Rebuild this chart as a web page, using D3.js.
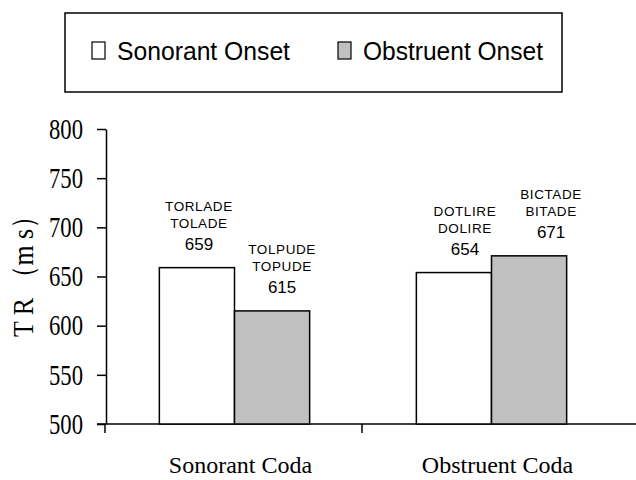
<!DOCTYPE html>
<html lang="en">

<head>
  <meta charset="UTF-8" />
  <title>TR by coda and onset</title>
  <script src="https://d3js.org/d3.v7.min.js"></script>
  <style>
    body {
      margin: 0;
      background: #fff;
    }

    .serif {
      font-family: "Liberation Serif", "Times New Roman", serif;
    }

    .sans {
      font-family: "Liberation Sans", Arial, sans-serif;
    }
  </style>
</head>

<body>
  <svg width="636" height="480"></svg>

  <script>
    // data
    const codas = ["Sonorant Coda", "Obstruent Coda"];
    const onsets = ["Sonorant Onset", "Obstruent Onset"];
    const sonorantOnset = [659, 654];
    const obstruentOnset = [615, 671];
    const wordsSonorant = [["TORLADE", "TOLADE"], ["DOTLIRE", "DOLIRE"]];
    const wordsObstruent = [["TOLPUDE", "TOPUDE"], ["BICTADE", "BITADE"]];
    const yTicks = [500, 550, 600, 650, 700, 750, 800];

    const colors = ["#ffffff", "#c0c0c0"];

    const svg = d3.select("svg");
    const plotLeft = 106, plotRight = 620, plotTop = 129, plotBottom = 424;

    const rows = [];
    codas.forEach((c, i) => {
      rows.push({ coda: c, onset: onsets[0], value: sonorantOnset[i], words: wordsSonorant[i] });
      rows.push({ coda: c, onset: onsets[1], value: obstruentOnset[i], words: wordsObstruent[i] });
    });

    const x0 = d3.scaleBand().domain(codas).range([plotLeft, plotRight]).padding(0);
    const x1 = d3.scaleBand().domain(onsets).range([0, x0.bandwidth()])
      .paddingInner(0).paddingOuter(0.71);
    const y = d3.scaleLinear().domain([500, 800]).range([plotBottom, plotTop]);
    const color = d3.scaleOrdinal().domain(onsets).range(colors);

    // y axis
    const yAxis = svg.append("g")
      .attr("transform", `translate(${plotLeft},0)`)
      .call(d3.axisLeft(y).tickValues(yTicks).tickSize(9).tickSizeOuter(0).tickPadding(14));
    yAxis.select(".domain").attr("stroke", "#000").attr("stroke-width", 1.5);
    yAxis.selectAll(".tick line").attr("stroke", "#000").attr("stroke-width", 1.5);
    yAxis.selectAll(".tick text")
      .attr("class", "serif")
      .style("font-size", "29px")
      .attr("fill", "#000")
      .attr("textLength", 34)
      .attr("lengthAdjust", "spacingAndGlyphs");

    // x axis (baseline + boundary ticks)
    svg.append("line")
      .attr("x1", plotLeft - 9).attr("x2", 636)
      .attr("y1", y(500)).attr("y2", y(500))
      .attr("stroke", "#000").attr("stroke-width", 1.5);
    svg.selectAll(".xtick")
      .data(codas)
      .enter()
      .append("line")
      .attr("class", "xtick")
      .attr("x1", d => x0(d) - 1).attr("x2", d => x0(d) - 1)
      .attr("y1", y(500)).attr("y2", y(500) + 9)
      .attr("stroke", "#000").attr("stroke-width", 1.5);
    svg.selectAll(".xlabel")
      .data(codas)
      .enter()
      .append("text")
      .attr("class", "serif")
      .attr("x", d => x0(d) + x0.bandwidth() / 2 + 6)
      .attr("y", 473)
      .attr("text-anchor", "middle")
      .style("font-size", "24px")
      .text(d => d);

    // y title
    svg.append("text")
      .attr("class", "serif")
      .attr("transform", "translate(33,270) rotate(-90)")
      .attr("text-anchor", "middle")
      .style("font-size", "30px")
      .attr("textLength", 134)
      .attr("lengthAdjust", "spacingAndGlyphs")
      .text("T R （m s）");

    // bars
    svg.selectAll(".bar")
      .data(rows)
      .enter()
      .append("rect")
      .attr("class", "bar")
      .attr("x", d => x0(d.coda) + x1(d.onset))
      .attr("y", d => y(d.value))
      .attr("width", x1.bandwidth())
      .attr("height", d => y(500) - y(d.value))
      .attr("fill", d => color(d.onset))
      .attr("stroke", "#000")
      .attr("stroke-width", 1.5);

    // bar labels: word pair + value
    const labelNudge = [2, 10, 11, 22];
    const lab = svg.selectAll(".lab")
      .data(rows)
      .enter()
      .append("g")
      .attr("class", "lab sans")
      .attr("transform", (d, i) =>
        `translate(${x0(d.coda) + x1(d.onset) + x1.bandwidth() / 2 + labelNudge[i]},${y(d.value) - 18})`);
    lab.append("text")
      .attr("y", -39)
      .attr("text-anchor", "middle")
      .style("font-size", "13.5px")
      .style("letter-spacing", "0.6px")
      .text(d => d.words[0]);
    lab.append("text")
      .attr("y", -22)
      .attr("text-anchor", "middle")
      .style("font-size", "13.5px")
      .style("letter-spacing", "0.6px")
      .text(d => d.words[1]);
    lab.append("text")
      .attr("y", 0)
      .attr("text-anchor", "middle")
      .style("font-size", "17px")
      .text(d => d.value);

    // legend
    const legend = svg.append("g");
    legend.append("rect")
      .attr("x", 65).attr("y", 13)
      .attr("width", 497).attr("height", 79)
      .attr("fill", "#fff").attr("stroke", "#000").attr("stroke-width", 1.5);
    const legendX = [92, 338];
    const legendW = [173, 180];
    const item = legend.selectAll(".item")
      .data(onsets)
      .enter()
      .append("g")
      .attr("transform", (d, i) => `translate(${legendX[i]},42)`);
    item.append("rect")
      .attr("width", 13).attr("height", 17)
      .attr("fill", d => color(d))
      .attr("stroke", "#000").attr("stroke-width", 1.2);
    item.append("text")
      .attr("class", "sans")
      .attr("x", 25).attr("y", 18)
      .style("font-size", "25px")
      .attr("textLength", (d, i) => legendW[i])
      .attr("lengthAdjust", "spacingAndGlyphs")
      .text(d => d);
  </script>
</body>

</html>
